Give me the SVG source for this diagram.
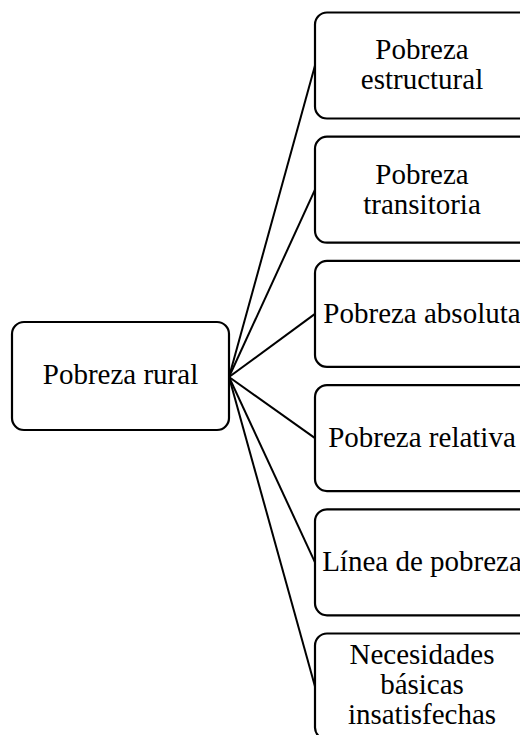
<svg xmlns="http://www.w3.org/2000/svg" width="520" height="735" viewBox="0 0 520 735">
<style>
.box{fill:#fff;stroke:#000;stroke-width:2.2}
.t{font-family:"Liberation Serif","Times New Roman",serif;font-size:29px;fill:#000;text-anchor:middle}
.c{stroke:#000;stroke-width:2;fill:none}
</style>
<rect width="520" height="735" fill="#fff"/>
<g id="connectors">
<line class="c" x1="229" y1="377" x2="315" y2="65.5"/>
<line class="c" x1="229" y1="377" x2="315" y2="189.7"/>
<line class="c" x1="229" y1="377" x2="315" y2="313.9"/>
<line class="c" x1="229" y1="377" x2="315" y2="438.1"/>
<line class="c" x1="229" y1="377" x2="315" y2="562.3"/>
<line class="c" x1="229" y1="377" x2="315" y2="686.5"/>
</g>
<g id="n0">
<rect class="box" x="12" y="322" width="217" height="108" rx="12"/>
<text class="t" x="120.5" y="384">Pobreza rural</text>
</g>
<g id="n1">
<rect class="box" x="315" y="12.5" width="217" height="106" rx="12"/>
<text class="t" x="422" y="59">Pobreza</text>
<text class="t" x="422" y="89">estructural</text>
</g>
<g id="n2">
<rect class="box" x="315" y="136.7" width="217" height="106" rx="12"/>
<text class="t" x="422" y="183.5">Pobreza</text>
<text class="t" x="422" y="213.5">transitoria</text>
</g>
<g id="n3">
<rect class="box" x="315" y="260.9" width="217" height="106" rx="12"/>
<text class="t" x="422" y="322.5">Pobreza absoluta</text>
</g>
<g id="n4">
<rect class="box" x="315" y="385.1" width="217" height="106" rx="12"/>
<text class="t" x="422" y="446.5">Pobreza relativa</text>
</g>
<g id="n5">
<rect class="box" x="315" y="509.3" width="217" height="106" rx="12"/>
<text class="t" x="422" y="570.5">Línea de pobreza</text>
</g>
<g id="n6">
<rect class="box" x="315" y="633.5" width="217" height="106" rx="12"/>
<text class="t" x="422" y="663.5">Necesidades</text>
<text class="t" x="422" y="693.5">básicas</text>
<text class="t" x="422" y="723.5">insatisfechas</text>
</g>
</svg>
